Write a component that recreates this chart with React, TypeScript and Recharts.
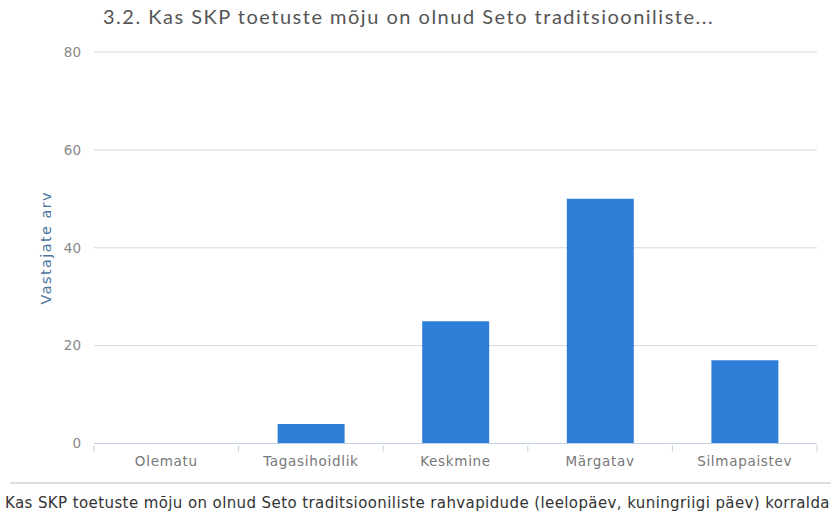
import { BarChart, Bar, XAxis, YAxis, CartesianGrid } from "recharts"

const categories = ["Olematu", "Tagasihoidlik", "Keskmine", "Märgatav", "Silmapaistev"]
const counts = [0, 4, 25, 50, 17]
const yTicks = [0, 20, 40, 60, 80]

const title = "3.2. Kas SKP toetuste mõju on olnud Seto traditsiooniliste..."
const question =
  "Kas SKP toetuste mõju on olnud Seto traditsiooniliste rahvapidude (leelopäev, kuningriigi päev) korraldamisele?"

const data = categories.map((name, i) => ({ name, value: counts[i] }))

const W = 831
const H = 517
const LEFT = 94
const RIGHT = 14
const BAND = (W - LEFT - RIGHT) / categories.length
const FONT = "'DejaVu Sans', Verdana, sans-serif"

function CategoryTick(props: any) {
  const { x, y, payload, index } = props
  const left = x - BAND / 2
  return (
    <g>
      <line x1={left} y1={y - 6} x2={left} y2={y} stroke="#C0D0E0" />
      {index === categories.length - 1 && (
        <line x1={x + BAND / 2} y1={y - 6} x2={x + BAND / 2} y2={y} stroke="#C0D0E0" />
      )}
      <text
        x={x}
        y={y + 14}
        textAnchor="middle"
        fill="#777"
        fontSize={13.5}
        letterSpacing={0.7}
        fontFamily={FONT}
      >
        {payload.value}
      </text>
    </g>
  )
}

export default function App() {
  return (
    <div
      style={{
        position: "absolute",
        left: 0,
        top: 0,
        width: W,
        height: H,
        background: "#fff",
        overflow: "hidden",
      }}
    >
      <div
        style={{
          position: "absolute",
          left: 103,
          top: 4,
          fontFamily: "Lato, sans-serif",
          fontSize: 20,
          letterSpacing: 1.5,
          color: "#555",
          whiteSpace: "nowrap",
        }}
      >
        {title}
      </div>
      <BarChart
        width={W}
        height={470}
        data={data}
        margin={{ top: 52, right: RIGHT, bottom: 0, left: 0 }}
      >
        <CartesianGrid vertical={false} stroke="#d8d8d8" />
        <XAxis
          dataKey="name"
          height={26.5}
          axisLine={{ stroke: "#C0D0E0" }}
          tickLine={false}
          interval={0}
          tick={<CategoryTick />}
        />
        <YAxis
          width={LEFT}
          domain={[0, 80]}
          ticks={yTicks}
          axisLine={false}
          tickLine={false}
          tickSize={0}
          tickMargin={13}
          tick={{ fill: "#888", fontSize: 13.5, fontFamily: FONT }}
          label={{
            content: (p: any) => {
              const vb = p.viewBox
              const cx = 46
              const cy = vb.y + vb.height / 2
              return (
                <text
                  x={cx}
                  y={cy}
                  transform={`rotate(-90 ${cx} ${cy})`}
                  textAnchor="middle"
                  dominantBaseline="central"
                  fill="#4d759e"
                  fontSize={14.5}
                  letterSpacing={1.4}
                  fontFamily={FONT}
                >
                  Vastajate arv
                </text>
              )
            },
          }}
        />
        <Bar dataKey="value" fill="#2f7ed8" barSize={67} isAnimationActive={false} />
      </BarChart>
      <div
        style={{
          position: "absolute",
          left: 10,
          right: 0,
          top: 482,
          borderTop: "2px solid #ddd",
        }}
      />
      <div
        style={{
          position: "absolute",
          left: 5,
          top: 494,
          fontFamily: FONT,
          fontSize: 15,
          letterSpacing: 0.4,
          color: "#333",
          whiteSpace: "nowrap",
        }}
      >
        {question}
      </div>
    </div>
  )
}
